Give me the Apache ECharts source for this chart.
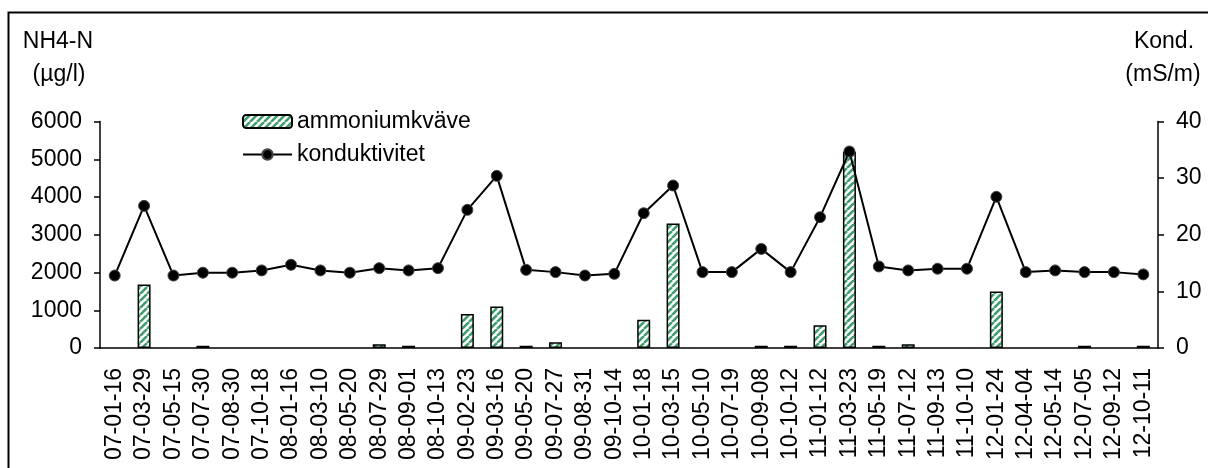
<!DOCTYPE html>
<html>
<head>
<meta charset="utf-8">
<script src="https://cdn.jsdelivr.net/npm/echarts@6/dist/echarts.min.js"></script>
<style>
  html, body { margin: 0; padding: 0; background: #fff; }
  #chart { width: 1208px; height: 468px; }
</style>
</head>
<body>
<div id="chart"></div>
<script>
// Sampling dates (yy-mm-dd)
const dates = [
  '07-01-16', '07-03-29', '07-05-15', '07-07-30', '07-08-30', '07-10-18',
  '08-01-16', '08-03-10', '08-05-20', '08-07-29', '08-09-01', '08-10-13',
  '09-02-23', '09-03-16', '09-05-20', '09-07-27', '09-08-31', '09-10-14',
  '10-01-18', '10-03-15', '10-05-10', '10-07-19', '10-09-08', '10-10-12',
  '11-01-12', '11-03-23', '11-05-19', '11-07-12', '11-09-13', '11-10-10',
  '12-01-24', '12-04-04', '12-05-14', '12-07-05', '12-09-12', '12-10-11'
];

// Ammonium nitrogen, NH4-N (µg/l)
const ammonium = [
  null, 1680, null, 60, null, null,
  null, null, null, 100, 60, null,
  900, 1100, 60, 150, null, null,
  750, 3300, null, null, 60, 60,
  600, 5200, 60, 100, null, null,
  1500, null, null, 60, null, 60
];

// Conductivity (mS/m)
const conductivity = [
  12.8, 25.1, 12.8, 13.3, 13.3, 13.7,
  14.7, 13.7, 13.3, 14.1, 13.7, 14.1,
  24.4, 30.4, 13.8, 13.4, 12.8, 13.1,
  23.8, 28.7, 13.4, 13.4, 17.5, 13.4,
  23.1, 34.7, 14.4, 13.7, 14.0, 14.0,
  26.7, 13.4, 13.7, 13.4, 13.4, 13.0
];

const FONT = '"Liberation Sans", Arial, sans-serif';
const FS = 23;

// Diagonal green hatch used to fill the bars
function hatchPattern() {
  const s = 7;
  const c = document.createElement('canvas');
  c.width = s; c.height = s;
  const g = c.getContext('2d');
  g.fillStyle = '#ffffff';
  g.fillRect(0, 0, s, s);
  g.strokeStyle = '#3f9d6d';
  g.lineWidth = 2.6;
  g.beginPath();
  for (let k = -1; k <= 1; k++) {
    g.moveTo(k * s, s);
    g.lineTo(k * s + s, 0);
  }
  g.stroke();
  return c;
}
const hatch = { image: hatchPattern(), repeat: 'repeat' };

const chart = echarts.init(document.getElementById('chart'), null, { renderer: 'canvas' });

const axisLine = { show: true, lineStyle: { color: '#000', width: 1.5 } };
const axisTick = { show: true, inside: false, length: 6, lineStyle: { color: '#000', width: 1.5 } };
const axisLabel = {
  color: '#000', fontFamily: FONT, fontSize: FS, margin: 18,
  formatter: function (v) { return String(v); }
};
const plainText = (text, x, y) => ({
  type: 'text', silent: true,
  style: { text: text, x: x, y: y, fill: '#000', font: FS + 'px ' + FONT,
           textAlign: 'center', textVerticalAlign: 'middle' }
});

chart.setOption({
  animation: false,
  backgroundColor: '#fff',
  textStyle: { fontFamily: FONT },
  grid: {
    left: 100, right: 50, top: 121.5, bottom: 120,
    containLabel: false,
    outerBoundsMode: 'none'
  },
  legend: [
    {
      data: ['ammoniumkväve'],
      left: 237, top: 105,
      itemWidth: 49, itemHeight: 13,
      textStyle: { color: '#000', fontFamily: FONT, fontSize: FS },
      selectedMode: false
    },
    {
      data: ['konduktivitet'],
      left: 237, top: 138,
      itemWidth: 49, itemHeight: 13,
      textStyle: { color: '#000', fontFamily: FONT, fontSize: FS },
      selectedMode: false
    }
  ],
  xAxis: {
    type: 'category',
    data: dates,
    axisLine: axisLine,
    axisTick: { show: false },
    axisLabel: {
      color: '#000', fontFamily: FONT, fontSize: FS,
      rotate: 90, interval: 0, margin: 20
    },
    splitLine: { show: false }
  },
  yAxis: [
    {
      type: 'value', position: 'left',
      min: 0, max: 6000, interval: 1000,
      axisLine: axisLine, axisTick: axisTick, axisLabel: axisLabel,
      splitLine: { show: false }
    },
    {
      type: 'value', position: 'right',
      min: 0, max: 40, interval: 10,
      axisLine: axisLine, axisTick: axisTick, axisLabel: axisLabel,
      splitLine: { show: false }
    }
  ],
  series: [
    {
      name: 'ammoniumkväve',
      type: 'bar',
      yAxisIndex: 0,
      data: ammonium,
      barWidth: 13,
      itemStyle: { color: hatch, borderColor: '#000', borderWidth: 1.5 },
      z: 2
    },
    {
      name: 'konduktivitet',
      type: 'line',
      yAxisIndex: 1,
      data: conductivity,
      symbol: 'circle',
      symbolSize: 11,
      lineStyle: { color: '#000', width: 2 },
      itemStyle: { color: '#000', borderColor: '#444', borderWidth: 1 },
      z: 3
    }
  ],
  graphic: [
    // outer frame (left and top edges visible)
    {
      type: 'rect', silent: true,
      shape: { x: 8.5, y: 12.5, width: 1300, height: 600 },
      style: { fill: 'none', stroke: '#000', lineWidth: 2 }
    },
    plainText('NH4-N', 58, 42),
    plainText('(µg/l)', 59, 75),
    plainText('Kond.', 1164, 42),
    plainText('(mS/m)', 1163, 75)
  ]
});
</script>
</body>
</html>
